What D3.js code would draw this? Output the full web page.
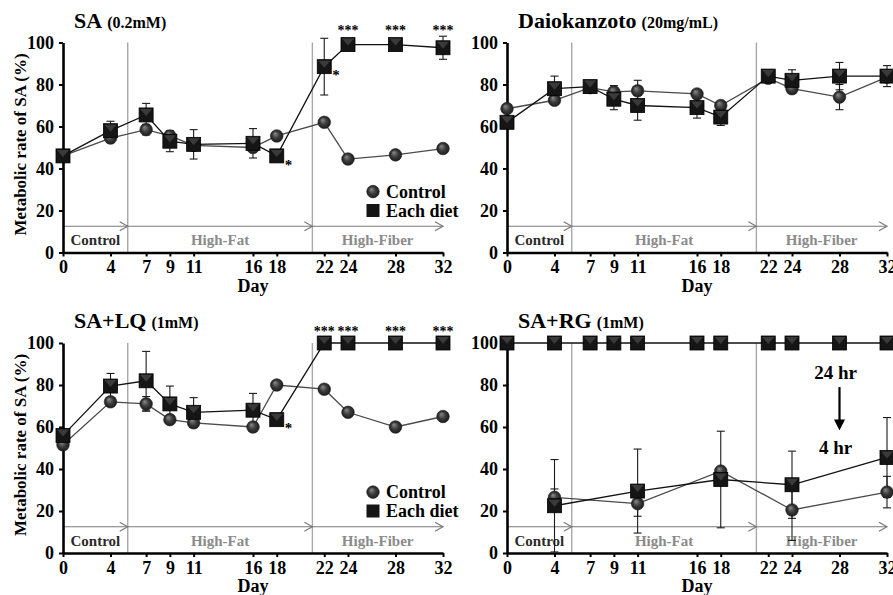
<!DOCTYPE html>
<html>
<head>
<meta charset="utf-8">
<script src="https://cdn.jsdelivr.net/npm/d3@7"></script>
<style>
body{margin:0;background:#fff;}
</style>
</head>
<body>
<svg id="chart" width="893" height="595" font-family="Liberation Serif, DejaVu Serif, serif" font-weight="bold"></svg>
<script>
//--------------------- values
const days=[0,4,7,9,11,16,18,22,24,28,32];
const yTicks=[0,20,40,60,80,100];
const phaseNames=["Control","High-Fat","High-Fiber"];
const phaseBounds=[0,5.45,21,32];
const legendNames=["Control","Each diet"];

// SA (0.2mM)
const saControl=[46,54.5,58.5,55.5,51,50,55.5,62,44.5,46.5,49.5];
const saControlErr=[0,1.5,2.5,2,1,1.5,1,1,1,1,1];
const saDiet=[46,58,65.5,53,51.5,52,46,88.5,99,99,97.5];
const saDietErr=[0,4.5,5.5,5,7,7,0,13.5,0,0,5.5];
const saStars=["","","","","","","*","*","***","***","***"];

// Daiokanzoto (20mg/mL)
const dkControl=[68.5,72.5,78.5,76.5,77,75.5,70,83,78,74,83.5];
const dkControlErr=[0,0,2,3,5,0,0,0,0,6,0];
const dkDiet=[62,78,79,73,70,69,64.5,84,82,84,84];
const dkDietErr=[0,6,2,5,7,5,4,0,5,6.5,5];

// SA+LQ (1mM)
const lqControl=[51.5,72,71,63.5,62,60,80,78,67,60,65];
const lqControlErr=[2,0,3.5,2,2,0,0,0,0,0,0];
const lqDiet=[56,79.5,82,71,67,68,63.5,100,100,100,100];
const lqDietErr=[0,6,14,8.5,7,8,0,0,0,0,0];
const lqStars=["","","","","","","*","***","***","***","***"];

// SA+RG (1mM) : 24 hr all at 100, 4 hr on fewer days
const rgDiet24=[100,100,100,100,100,100,100,100,100,100,100];
const rgDays4=[4,11,18,24,32];
const rgControl4=[26.5,23.5,39,20.5,29];
const rgControl4Err=[4,6,0,14.5,7.5];
const rgDiet4=[22.5,29.5,35,32.5,45.5];
const rgDiet4Err=[22,20,23,16,19];
const rgNotes=["24 hr","4 hr"];

//--------------------- drawing
const svg=d3.select("#chart");
const W=380,H=210;
const FONT="Liberation Serif, DejaVu Serif, serif";

let defs=svg.append("defs");
let grad=defs.append("radialGradient").attr("id","ball").attr("fx","0.35").attr("fy","0.3");
grad.append("stop").attr("offset","0%").attr("stop-color","#8c8c8c");
grad.append("stop").attr("offset","55%").attr("stop-color","#3c3c3c");
grad.append("stop").attr("offset","100%").attr("stop-color","#1c1c1c");
defs.append("marker").attr("id","down").attr("viewBox","0 0 10 10").attr("refX",5).attr("refY",5)
    .attr("markerWidth",5).attr("markerHeight",5).attr("orient","auto")
    .append("path").attr("d","M0,0 L10,5 L0,10 z").attr("fill","#000");

function zip(ds,vs,es){
    return ds.map((d,i)=>({day:d,v:vs[i],e:es?es[i]:0}));
}

function drawPanel(p){
    let g=svg.append("g").attr("transform","translate("+p.x+","+p.y+")");
    let x=d3.scaleLinear().domain([0,32]).range([0,W]);
    let y=d3.scaleLinear().domain([0,100]).range([H,0]);

    // phase dividers
    g.selectAll(".divider").data(phaseBounds.slice(1,3)).join("line")
        .attr("x1",d=>x(d)).attr("x2",d=>x(d)).attr("y1",y(0)).attr("y2",y(100))
        .attr("stroke","#a8a8a8").attr("stroke-width",1.4);

    // phase arrows + names
    let ay=y(12.5);
    phaseNames.forEach((name,i)=>{
        let x0=x(phaseBounds[i]),x1=x(phaseBounds[i+1]);
        g.append("line").attr("x1",x0).attr("x2",x1).attr("y1",ay).attr("y2",ay)
            .attr("stroke","#7a7a7a").attr("stroke-width",1.2);
        g.append("path").attr("d","M"+(x1-8)+","+(ay-4.5)+" L"+x1+","+ay+" L"+(x1-8)+","+(ay+4.5))
            .attr("fill","none").attr("stroke","#7a7a7a").attr("stroke-width",1.2);
        g.append("text").attr("x",(x0+x1)/2).attr("y",y(6)).attr("dy","0.35em")
            .attr("text-anchor","middle").attr("font-size",15)
            .attr("fill",i==0?"#2a2a2a":"#8a8a8a").text(name);
    });

    // axes
    let yAxis=d3.axisLeft(y).tickValues(yTicks).tickSize(4).tickSizeOuter(0).tickPadding(5);
    let xAxis=d3.axisBottom(x).tickValues(days).tickSize(4).tickSizeOuter(0).tickPadding(4);
    let ya=g.append("g").call(yAxis);
    let xa=g.append("g").attr("transform","translate(0,"+H+")").call(xAxis);
    [ya,xa].forEach(a=>{
        a.attr("font-family",FONT).attr("font-size",18).attr("font-weight","bold");
        a.select(".domain").attr("stroke","#000").attr("stroke-width",2.6);
        a.selectAll(".tick line").attr("stroke","#000").attr("stroke-width",2);
        a.selectAll(".tick text").attr("fill","#000");
    });

    // series lines
    let line=d3.line().x(d=>x(d.day)).y(d=>y(d.v));
    p.series.forEach(s=>{
        g.append("path").datum(s.pts).attr("d",line).attr("fill","none")
            .attr("stroke",s.kind=="circle"?"#4a4a4a":"#111").attr("stroke-width",1.3);
    });

    // error bars
    p.series.forEach(s=>{
        let eb=g.append("g").attr("stroke","#1a1a1a").attr("stroke-width",1.1);
        s.pts.filter(d=>d.e>0).forEach(d=>{
            let cx=x(d.day),lo=y(Math.max(0,d.v-d.e)),hi=y(d.v+d.e);
            eb.append("line").attr("x1",cx).attr("x2",cx).attr("y1",lo).attr("y2",hi);
            eb.append("line").attr("x1",cx-4).attr("x2",cx+4).attr("y1",lo).attr("y2",lo);
            eb.append("line").attr("x1",cx-4).attr("x2",cx+4).attr("y1",hi).attr("y2",hi);
        });
    });

    // markers
    p.series.forEach(s=>{
        if(s.kind=="circle"){
            g.selectAll(null).data(s.pts).join("circle")
                .attr("cx",d=>x(d.day)).attr("cy",d=>y(d.v)).attr("r",6.3)
                .attr("fill","url(#ball)").attr("stroke","#222").attr("stroke-width",0.6);
        }else{
            g.selectAll(null).data(s.pts).join("rect")
                .attr("x",d=>x(d.day)-7).attr("y",d=>y(d.v)-7).attr("width",14).attr("height",14)
                .attr("fill","#151515").attr("stroke","#000").attr("stroke-width",0.8);
            g.selectAll(null).data(s.pts).join("path")
                .attr("d",d=>{let cx=x(d.day),cy=y(d.v);
                    return "M"+(cx-6)+","+(cy-6)+" L"+cx+","+(cy+1)+" L"+(cx+6)+","+(cy-6)+" z";})
                .attr("fill","#3a3a3a");
        }
    });

    // significance stars
    if(p.stars){
        let diet=p.series[p.series.length-1].pts;
        p.stars.forEach((st,i)=>{
            if(st=="*"){
                g.append("text").attr("x",x(diet[i].day)+8).attr("y",y(diet[i].v-6.5))
                    .attr("font-size",15).text(st);
            }else if(st){
                g.append("text").attr("x",x(diet[i].day)).attr("y",y(103.5))
                    .attr("text-anchor","middle").attr("font-size",14).text(st);
            }
        });
    }

    // title
    let t=g.append("text").attr("x",11).attr("y",-15).attr("fill","#000");
    t.append("tspan").attr("font-size",22).text(p.title);
    t.append("tspan").attr("font-size",16).attr("dx",5).text(p.sub);

    // axis titles
    g.append("text").attr("x",W/2).attr("y",H+39).attr("text-anchor","middle")
        .attr("font-size",18).text("Day");
    if(p.ylabel){
        g.append("text").attr("transform","translate(-37,"+(H/2-3)+") rotate(-90)")
            .attr("text-anchor","middle").attr("font-size",17).text("Metabolic rate of SA (%)");
    }

    // legend
    if(p.legend){
        let lg=g.append("g").attr("transform","translate("+(W-70)+",0)");
        lg.append("circle").attr("cx",0).attr("cy",y(29)).attr("r",6.3)
            .attr("fill","url(#ball)").attr("stroke","#222").attr("stroke-width",0.6);
        lg.append("rect").attr("x",-6.5).attr("y",y(20)-6.5).attr("width",13).attr("height",13)
            .attr("fill","#151515");
        legendNames.forEach((n,i)=>{
            lg.append("text").attr("x",13).attr("y",y(i==0?29:20)).attr("dy","0.35em")
                .attr("font-size",18).text(n);
        });
    }

    if(p.notes){
        let nx=x(28)-4;
        g.append("text").attr("x",nx).attr("y",y(83)).attr("text-anchor","middle")
            .attr("font-size",19).text(p.notes[0]);
        g.append("line").attr("x1",x(28)).attr("x2",x(28)).attr("y1",y(79)).attr("y2",y(61))
            .attr("stroke","#000").attr("stroke-width",2.2).attr("marker-end","url(#down)");
        g.append("text").attr("x",nx).attr("y",y(47)).attr("text-anchor","middle")
            .attr("font-size",19).text(p.notes[1]);
    }
}

drawPanel({x:63,y:42.5,title:"SA",sub:"(0.2mM)",ylabel:true,legend:true,stars:saStars,
    series:[{kind:"circle",pts:zip(days,saControl,saControlErr)},
            {kind:"square",pts:zip(days,saDiet,saDietErr)}]});
drawPanel({x:507,y:42.5,title:"Daiokanzoto",sub:"(20mg/mL)",
    series:[{kind:"circle",pts:zip(days,dkControl,dkControlErr)},
            {kind:"square",pts:zip(days,dkDiet,dkDietErr)}]});
drawPanel({x:63,y:343,title:"SA+LQ",sub:"(1mM)",ylabel:true,legend:true,stars:lqStars,
    series:[{kind:"circle",pts:zip(days,lqControl,lqControlErr)},
            {kind:"square",pts:zip(days,lqDiet,lqDietErr)}]});
drawPanel({x:507,y:343,title:"SA+RG",sub:"(1mM)",notes:rgNotes,
    series:[{kind:"circle",pts:zip(rgDays4,rgControl4,rgControl4Err)},
            {kind:"square",pts:zip(rgDays4,rgDiet4,rgDiet4Err)},
            {kind:"square",pts:zip(days,rgDiet24)}]});
</script>
</body>
</html>
